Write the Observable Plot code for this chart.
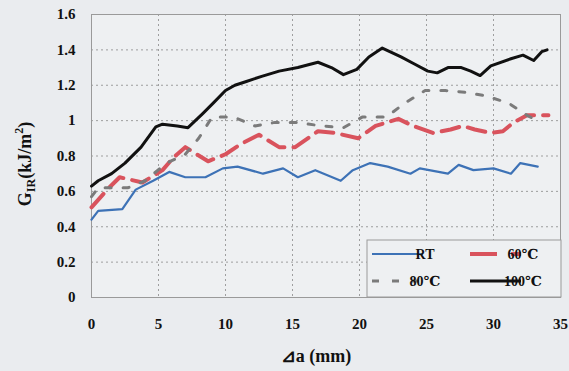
<!DOCTYPE html>
<html><head><meta charset="utf-8">
<script src="https://cdn.jsdelivr.net/npm/d3@7"></script>
<script src="https://cdn.jsdelivr.net/npm/@observablehq/plot@0.6"></script>
<style>
html,body{margin:0;padding:0;background:#eaecef;}
svg text{font-family:"Liberation Serif","DejaVu Serif",serif !important;}
</style>
</head><body><div id="chart"></div>
<script>
const xTicks = [0,5,10,15,20,25,30,35];
const yTicks = [0,0.2,0.4,0.6,0.8,1,1.2,1.4,1.6];
const seriesNames = ["RT","60℃","80℃","100℃"];

const rtX = [0,0.5,2.3,3.3,4.6,5.8,7.0,8.5,9.8,10.9,12.8,14.3,15.4,16.7,18.6,19.5,20.8,22.1,23.8,24.5,26.6,27.4,28.5,30.0,31.3,32.0,33.3];
const rtY = [0.44,0.49,0.50,0.61,0.66,0.71,0.68,0.68,0.73,0.74,0.70,0.73,0.68,0.72,0.66,0.72,0.76,0.74,0.70,0.73,0.70,0.75,0.72,0.73,0.70,0.76,0.74];

const t60X = [0,1.3,2.1,3.8,5.3,6.1,7.0,8.7,10.0,11.2,12.5,14.0,15.2,16.9,18.2,19.9,21.2,22.9,24.0,25.5,26.8,27.7,28.6,29.8,30.7,31.5,32.5,34.1];
const t60Y = [0.51,0.62,0.68,0.65,0.72,0.79,0.85,0.77,0.81,0.87,0.92,0.85,0.85,0.94,0.93,0.90,0.97,1.01,0.97,0.93,0.95,0.97,0.95,0.93,0.94,0.99,1.03,1.03];

const t80X = [0,0.5,2.7,4.0,5.6,7.0,8.0,9.0,10.6,12.2,13.7,15.2,17.2,18.8,20.2,22.0,23.4,24.9,26.4,27.9,29.4,31.1,32.5,33.0];
const t80Y = [0.57,0.62,0.62,0.66,0.76,0.81,0.90,1.02,1.02,0.97,0.99,0.99,0.97,0.96,1.02,1.02,1.10,1.17,1.17,1.16,1.14,1.10,1.03,1.01];

const t100X = [0,0.5,1.5,2.5,3.7,4.8,5.3,6.4,7.2,8.3,9.1,10.0,10.7,11.5,12.7,14.0,15.4,16.9,17.9,18.8,19.8,20.7,21.7,23.1,24.1,25.1,25.8,26.6,27.6,28.3,29.0,29.8,31.3,32.2,33.0,33.6,34.0];
const t100Y = [0.63,0.66,0.70,0.76,0.85,0.965,0.98,0.97,0.96,1.04,1.10,1.17,1.20,1.22,1.25,1.28,1.30,1.33,1.30,1.26,1.29,1.36,1.41,1.36,1.32,1.28,1.27,1.30,1.30,1.28,1.255,1.31,1.35,1.37,1.34,1.39,1.40];

const zip = (xs, ys) => xs.map((x, i) => ({x, y: ys[i]}));
const rt = zip(rtX, rtY), s60 = zip(t60X, t60Y), s80 = zip(t80X, t80Y), s100 = zip(t100X, t100Y);

const styles = [
  {stroke:"#3d72b6", strokeWidth:2.2, strokeDasharray:null},
  {stroke:"#d9535d", strokeWidth:4, strokeDasharray:"18,9"},
  {stroke:"#7b7b7b", strokeWidth:3, strokeDasharray:"6,12"},
  {stroke:"#111111", strokeWidth:3, strokeDasharray:null}
];

const fmt = d => String(+d.toFixed(1));
const font = "Liberation Serif, DejaVu Serif, serif";

const chart = Plot.plot({
  width: 569, height: 371,
  marginLeft: 91, marginRight: 9, marginTop: 14, marginBottom: 74,
  style: {fontFamily: font, fontSize: "15px", fontWeight: "bold", background: "#eaecef", color: "#111"},
  x: {domain: [0, 35], ticks: xTicks, tickSize: 0, tickPadding: 21, tickFormat: fmt, label: null},
  y: {domain: [0, 1.6], ticks: yTicks, tickSize: 0, tickPadding: 16, tickFormat: fmt, label: null},
  marks: [
    Plot.frame({fill: "#eef0f2"}),
    Plot.gridX(xTicks.slice(1, -1), {stroke: "#8a8a8a", strokeOpacity: 0.8, strokeDasharray: "2,3"}),
    Plot.gridY(yTicks.slice(1, -1), {stroke: "#8a8a8a", strokeOpacity: 0.8, strokeDasharray: "2,3"}),
    Plot.frame({stroke: "#9a9a9a"}),
    Plot.line(rt, {x: "x", y: "y", ...styles[0]}),
    Plot.line(s60, {x: "x", y: "y", ...styles[1]}),
    Plot.line(s80, {x: "x", y: "y", ...styles[2]}),
    Plot.line(s100, {x: "x", y: "y", ...styles[3]}),
    Plot.axisX({ticks: xTicks, tickSize: 0, tickPadding: 21, tickFormat: fmt}),
    Plot.axisY({ticks: yTicks, tickSize: 0, tickPadding: 16, tickFormat: fmt})
  ]
});

const svg = d3.select(chart);
const yt = svg.append("text")
  .attr("transform", "translate(31,164) rotate(-90)")
  .attr("text-anchor", "middle")
  .attr("font-weight", "bold").attr("font-size", 18).attr("fill", "#111");
yt.append("tspan").text("G");
yt.append("tspan").attr("font-size", 12).attr("dy", 4).text("IR");
yt.append("tspan").attr("dy", -4).text("(kJ/m");
yt.append("tspan").attr("font-size", 12).attr("dy", -8).text("2");
yt.append("tspan").attr("dy", 8).text(")");

svg.append("text")
  .attr("x", 316).attr("y", 362)
  .attr("text-anchor", "middle")
  .attr("font-weight", "bold").attr("font-size", 18).attr("fill", "#111")
  .text("⊿a (mm)");

const lg = svg.append("g");
lg.append("rect").attr("x", 367).attr("y", 240).attr("width", 194).attr("height", 57)
  .attr("fill", "#eef0f2").attr("stroke", "#9a9a9a");
const pos = [[372, 254], [470, 254], [372, 281], [470, 281]];
seriesNames.forEach((name, i) => {
  const [lx, ly] = pos[i];
  const st = styles[i];
  lg.append("line").attr("x1", lx).attr("x2", lx + 51).attr("y1", ly).attr("y2", ly)
    .attr("stroke", st.stroke).attr("stroke-width", st.strokeWidth)
    .attr("stroke-dasharray", i === 1 ? "27,14" : i === 2 ? "7,13" : null);
  lg.append("text").attr("x", lx + 53).attr("y", ly).attr("dy", "0.35em")
    .attr("font-weight", "bold").attr("font-size", 14).attr("fill", "#111")
    .text(name);
});

document.getElementById("chart").appendChild(chart);
</script>
</body></html>
